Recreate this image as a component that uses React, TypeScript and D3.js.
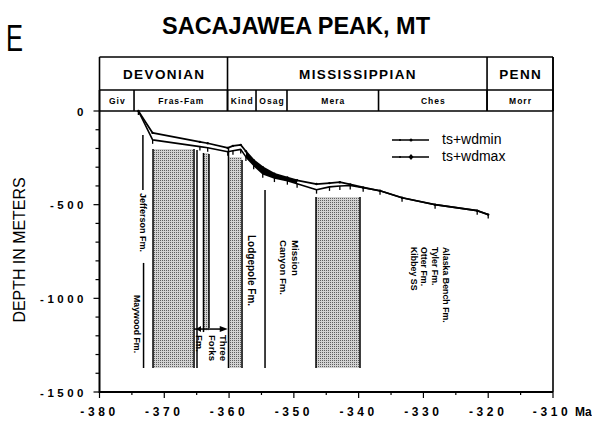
import React from "react";
import * as d3 from "d3";

// ---- data ----
const ages = [-374.0, -371.8, -364.5, -363.3, -360.2, -359.4, -358.2, -357.4, -356.2, -354.8, -353.0, -351.0, -349.5, -346.5, -344.5, -342.9, -341.3, -339.3, -336.7, -333.3, -328.2, -321.7, -320.0];
const wdmin = [0, -117, -165, -172, -197, -186, -181, -215, -262, -300, -335, -355, -370, -390, -385, -380, -392, -408, -426, -463, -500, -532, -553];
const wdmax = [0, -154, -190, -196, -218, -212, -205, -245, -290, -335, -358, -372, -388, -420, -405, -400, -398, -410, -426, -463, -500, -532, -553];

const xTicks = [-380, -370, -360, -350, -340, -330, -320, -310];
const yTicks = [0, -500, -1000, -1500];

const periodNames = ["DEVONIAN", "MISSISSIPPIAN", "PENN"];
const periodBounds = [-380, -360.24, -320.18, -310];
const stageNames = ["Giv", "Fras-Fam", "Kind", "Osag", "Mera", "Ches", "Morr"];
const stageBounds = [-380, -374.67, -360.24, -355.84, -351.06, -336.93, -320.18, -310];

// stippled intervals: [fromMa, toMa, topDepth, bottomDepth]
const shadedZones = [
  [-371.74, -365.41, -203, -1372],
  [-363.95, -363.1, -224, -1170],
  [-360.09, -358.0, -246, -1372],
  [-346.58, -339.79, -459, -1372],
];
// vertical formation lines: [Ma, topDepth, bottomDepth]
const formationLines = [
  [-373.3, -128, -422],
  [-373.2, -811, -1372],
  [-371.74, -203, -1372],
  [-365.41, -203, -1372],
  [-364.95, -208, -1372],
  [-363.95, -224, -1180],
  [-363.1, -230, -1158],
  [-360.09, -198, -1372],
  [-358.0, -262, -1372],
  [-354.45, -422, -1372],
  [-346.58, -459, -1372],
  [-339.79, -459, -1372],
];
// Three Forks arrow: [fromMa, toMa, depth]
const arrowSpan = [-365.41, -360.2, -1164];
// rotated labels: [text, Ma (centre), depth (start), font size]
const formationLabels: [string, number, number, number][] = [
  ["Jefferson Fm.", -373.29, -438, 9],
  ["Maywood Fm.", -374.13, -982, 8.8],
  ["Three", -360.94, -1196, 9.5],
  ["Forks", -362.63, -1196, 9.5],
  ["Fm.", -364.64, -1196, 9.5],
  ["Lodgepole Fm.", -356.46, -662, 10],
  ["Mission", -349.82, -689, 9.6],
  ["Canyon Fm.", -351.67, -689, 9.6],
  ["Alaska Bench Fm.", -326.52, -726, 8.8],
  ["Tyler Fm.", -328.21, -726, 8.8],
  ["Otter Fm.", -329.83, -726, 8.8],
  ["Kibbey SS", -331.45, -726, 8.8],
];
const seriesNames = ["ts+wdmin", "ts+wdmax"];

const FONT = "'Liberation Sans', Arial, Helvetica, sans-serif";

export default function App() {
  const W = 592, H = 422;
  const x = d3.scaleLinear().domain([-380, -310]).range([99.5, 553]);
  const y = d3.scaleLinear().domain([-1500, 0]).range([392, 111]);
  const headTop = 57, headMid = 90, headBot = 111;

  const idx = ages.map((_, i) => i);
  const lineMin = d3.line<number>().x((i) => x(ages[i])).y((i) => y(wdmin[i]));
  const lineMax = d3.line<number>().x((i) => x(ages[i])).y((i) => y(wdmax[i]));
  const band = d3
    .area<number>()
    .x((i) => x(ages[i]))
    .y0((i) => y(wdmin[i]))
    .y1((i) => y(wdmax[i]));
  const bandIdx = idx.filter((i) => ages[i] >= -357.5 && ages[i] <= -349.4);

  const yMinor = d3.range(0, -1501, -100);
  const xMinor = d3.range(-380, -309, 5);

  return (
    <svg
      width={W}
      height={H}
      style={{ position: "absolute", left: 0, top: 0, background: "#fff" }}
      fontFamily={FONT}
    >
      <defs>
        <pattern id="stip" width="2" height="2" patternUnits="userSpaceOnUse">
          <rect width="2" height="2" fill="#d2d2d2" />
          <rect width="1" height="1" fill="#5e5e5e" />
        </pattern>
      </defs>
      <rect width={W} height={H} fill="#fff" />

      {/* Title & panel letter */}
      <text x={6} y={51} fontSize={36} textLength={17} lengthAdjust="spacingAndGlyphs">E</text>
      <text x={296} y={34} fontSize={23} fontWeight="bold" textAnchor="middle" textLength={268} lengthAdjust="spacingAndGlyphs">
        SACAJAWEA PEAK, MT
      </text>

      {/* Header boxes */}
      <g stroke="#000" strokeWidth={1.6} fill="none">
        <line x1={x(-380)} x2={x(-310)} y1={headTop} y2={headTop} />
        <line x1={x(-380)} x2={x(-310)} y1={headMid} y2={headMid} />
        <line x1={x(-380)} x2={x(-310)} y1={headBot} y2={headBot} />
        {periodBounds.map((b, i) => (
          <line key={"p" + i} x1={x(b)} x2={x(b)} y1={headTop} y2={headBot} />
        ))}
        {stageBounds.map((b, i) => (
          <line key={"s" + i} x1={x(b)} x2={x(b)} y1={headMid} y2={headBot} />
        ))}
      </g>
      {periodNames.map((n, i) => (
        <text key={n} x={(x(periodBounds[i]) + x(periodBounds[i + 1])) / 2 + 0.7} y={79} fontSize={13.5} fontWeight="bold" letterSpacing={1.4} textAnchor="middle">
          {n}
        </text>
      ))}
      {stageNames.map((n, i) => (
        <text key={n} x={(x(stageBounds[i]) + x(stageBounds[i + 1])) / 2 + 0.5} y={104} fontSize={8.5} fontWeight="bold" letterSpacing={1} textAnchor="middle">
          {n}
        </text>
      ))}

      {/* Stippled zones */}
      {shadedZones.map((z, i) => (
        <rect key={"z" + i} x={x(z[0])} y={y(z[2])} width={x(z[1]) - x(z[0])} height={y(z[3]) - y(z[2])} fill="url(#stip)" />
      ))}
      {/* Formation lines */}
      <g stroke="#000" strokeWidth={1.5}>
        {formationLines.map((l, i) => (
          <line key={"f" + i} x1={x(l[0])} x2={x(l[0])} y1={y(l[1])} y2={y(l[2])} />
        ))}
        <line x1={x(arrowSpan[0])} x2={x(arrowSpan[1]) - 5} y1={y(arrowSpan[2])} y2={y(arrowSpan[2])} />
      </g>
      <path d={`M${x(arrowSpan[1])},${y(arrowSpan[2])} l-8,-3 l0,6 z`} fill="#000" />
      <path d={`M${x(arrowSpan[0]) + 2},${y(arrowSpan[2])} l5,-3 l0,6 z`} fill="#000" />
      {formationLabels.map(([t, ma, d, fs], i) => {
        const cx = x(ma) - fs * 0.36;
        const cy = y(d);
        return (
          <text key={"l" + i} transform={`translate(${cx},${cy}) rotate(90)`} fontSize={fs} fontWeight="bold">
            {t}
          </text>
        );
      })}

      {/* Curves */}
      <path d={band(bandIdx) || ""} fill="#000" />
      <path d={lineMin(idx) || ""} fill="none" stroke="#000" strokeWidth={1.7} strokeLinejoin="round" />
      <path d={lineMax(idx) || ""} fill="none" stroke="#000" strokeWidth={1.6} strokeLinejoin="round" />
      {idx.map((i) => (
        <circle key={"m" + i} cx={x(ages[i])} cy={y(wdmin[i])} r={1.2} fill="#000" />
      ))}
      {idx.map((i) => (
        <line key={"t" + i} x1={x(ages[i])} x2={x(ages[i])} y1={y(wdmax[i])} y2={y(wdmax[i]) + 4} stroke="#000" strokeWidth={1.3} />
      ))}

      {/* Legend */}
      <g stroke="#000" strokeWidth={1.3}>
        <line x1={392} x2={429} y1={140} y2={140} />
        <line x1={392} x2={429} y1={157} y2={157} />
      </g>
      <circle cx={400} cy={140} r={1} fill="#000" />
      <circle cx={411} cy={140} r={1.5} fill="#000" />
      <circle cx={400} cy={157} r={1} fill="#000" />
      <path d="M411,154 l2.5,3 l-2.5,3 l-2.5,-3 z" fill="#000" />
      <text x={442} y={144} fontSize={14}>{seriesNames[0]}</text>
      <text x={442} y={161} fontSize={14}>{seriesNames[1]}</text>

      {/* Axes */}
      <g stroke="#000" strokeWidth={2}>
        <line x1={x(-380)} x2={x(-380)} y1={y(0)} y2={y(-1500) + 1} />
        <line x1={x(-380)} x2={x(-310)} y1={y(-1500)} y2={y(-1500)} />
      </g>
      <line x1={x(-310)} x2={x(-310)} y1={headTop} y2={y(-1500)} stroke="#000" strokeWidth={1.6} />
      <g stroke="#000" strokeWidth={1.2}>
        {yMinor.map((d) => (
          <line key={"yt" + d} x1={x(-380) - (d % 500 === 0 ? 6 : 4)} x2={x(-380)} y1={y(d)} y2={y(d)} />
        ))}
        {xMinor.map((m) => (
          <line key={"xt" + m} x1={x(m)} x2={x(m)} y1={y(-1500)} y2={y(-1500) + (m % 10 === 0 ? 6 : 3)} />
        ))}
      </g>
      {yTicks.map((d) => (
        <text key={"yl" + d} x={87} y={y(d) + 4.5} fontSize={11.5} fontWeight="bold" letterSpacing={3.5} textAnchor="end">
          {d === 0 ? "0" : String(d)}
        </text>
      ))}
      {xTicks.map((m) => (
        <text key={"xl" + m} x={x(m) + (m === -310 ? -1 : 0)} y={416} fontSize={12} fontWeight="bold" letterSpacing={3.6} textAnchor="middle">
          {String(m)}
        </text>
      ))}
      <text x={575} y={416} fontSize={12} fontWeight="bold">Ma</text>
      <text transform="translate(25,250) rotate(-90)" fontSize={17} textAnchor="middle" textLength={145} lengthAdjust="spacingAndGlyphs">
        DEPTH IN METERS
      </text>
    </svg>
  );
}
